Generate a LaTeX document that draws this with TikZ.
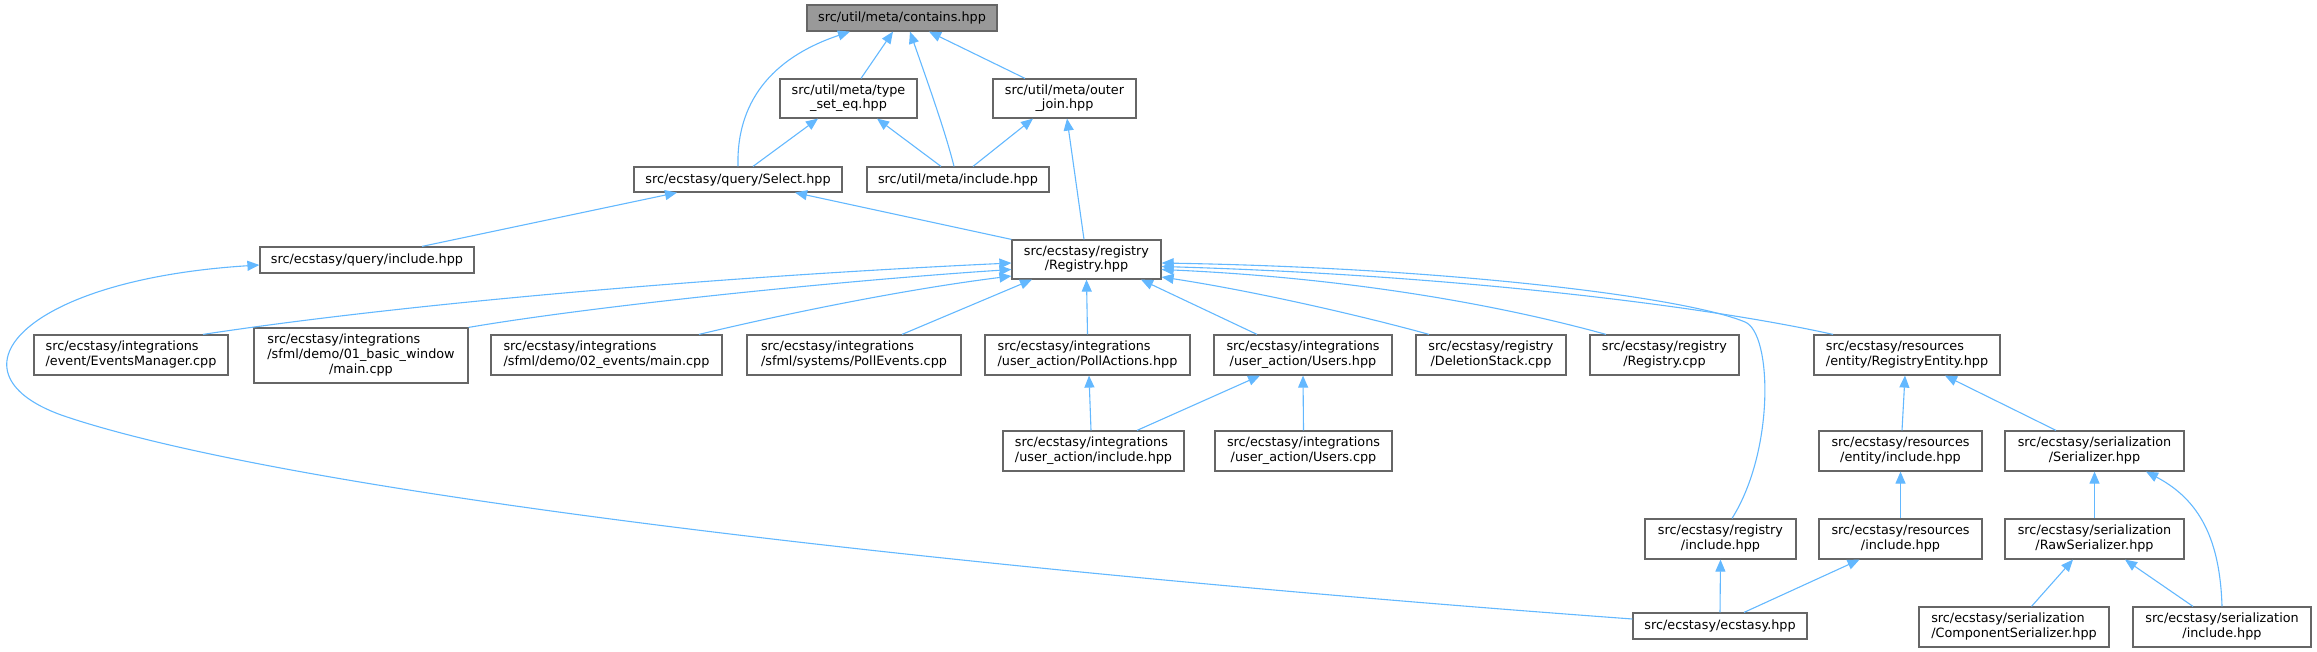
\documentclass[tikz,border=0pt]{standalone}
\usepackage{fontspec}
\setmainfont{DejaVu Sans}
\usetikzlibrary{arrows.meta}
\definecolor{edgeblue}{HTML}{63B8FF}
\definecolor{boxgray}{HTML}{666666}
\definecolor{rootfill}{HTML}{999999}
\newcommand{\lbltwo}[2]{\begin{tabular}{@{}l@{}}#1\\\multicolumn{1}{@{}c@{}}{#2}\end{tabular}}
\newcommand{\lblthree}[3]{\begin{tabular}{@{}l@{}}#1\\#2\\\multicolumn{1}{@{}c@{}}{#3}\end{tabular}}
\tikzset{
  box/.style={draw=boxgray, fill=white, line width=1.2pt, inner sep=0pt, align=center,
    font=\fontsize{12.8}{14.8}\selectfont},
  rootbox/.style={box, fill=rootfill},
  edge/.style={draw=edgeblue, line width=1.1pt, -{Triangle[length=12pt,width=10pt]}},
}
\begin{document}
\begin{tikzpicture}[x=1pt,y=-1pt]
\useasboundingbox (0,0) rectangle (2317,652);
% nodes
\node[rootbox, minimum width=190pt, minimum height=26pt] (contains) at (902,18) {src/util/meta/contains.hpp};
\node[box, minimum width=137pt, minimum height=39pt] (tse) at (848.5,98.5) {\lbltwo{src/util/meta/type}{\_set\_eq.hpp}};
\node[box, minimum width=143pt, minimum height=39pt] (oj) at (1064.5,98.5) {\lbltwo{src/util/meta/outer}{\_join.hpp}};
\node[box, minimum width=208pt, minimum height=25pt] (sel) at (738,179.5) {src/ecstasy/query/Select.hpp};
\node[box, minimum width=182pt, minimum height=25pt] (mi) at (958,179.5) {src/util/meta/include.hpp};
\node[box, minimum width=149pt, minimum height=39pt] (reg) at (1086.5,259.5) {\lbltwo{src/ecstasy/registry}{/Registry.hpp}};
\node[box, minimum width=214pt, minimum height=26pt] (qinc) at (367,260) {src/ecstasy/query/include.hpp};
\node[box, minimum width=194pt, minimum height=40pt] (em) at (131,355) {\lbltwo{src/ecstasy/integrations}{/event/EventsManager.cpp}};
\node[box, minimum width=214pt, minimum height=55pt] (bw) at (361,355.5) {\lblthree{src/ecstasy/integrations}{/sfml/demo/01\_basic\_window}{/main.cpp}};
\node[box, minimum width=231pt, minimum height=40pt] (ev2) at (606.5,355) {\lbltwo{src/ecstasy/integrations}{/sfml/demo/02\_events/main.cpp}};
\node[box, minimum width=214pt, minimum height=40pt] (pe) at (854,355) {\lbltwo{src/ecstasy/integrations}{/sfml/systems/PollEvents.cpp}};
\node[box, minimum width=205pt, minimum height=40pt] (pa) at (1087.5,355) {\lbltwo{src/ecstasy/integrations}{/user\_action/PollActions.hpp}};
\node[box, minimum width=178pt, minimum height=40pt] (uh) at (1303,355) {\lbltwo{src/ecstasy/integrations}{/user\_action/Users.hpp}};
\node[box, minimum width=150pt, minimum height=40pt] (ds) at (1491,355) {\lbltwo{src/ecstasy/registry}{/DeletionStack.cpp}};
\node[box, minimum width=149pt, minimum height=40pt] (rc) at (1664.5,355) {\lbltwo{src/ecstasy/registry}{/Registry.cpp}};
\node[box, minimum width=186pt, minimum height=40pt] (re) at (1907,355) {\lbltwo{src/ecstasy/resources}{/entity/RegistryEntity.hpp}};
\node[box, minimum width=181pt, minimum height=40pt] (uai) at (1093.5,451) {\lbltwo{src/ecstasy/integrations}{/user\_action/include.hpp}};
\node[box, minimum width=177pt, minimum height=40pt] (uc) at (1303.5,451) {\lbltwo{src/ecstasy/integrations}{/user\_action/Users.cpp}};
\node[box, minimum width=163pt, minimum height=40pt] (ei) at (1900.5,451) {\lbltwo{src/ecstasy/resources}{/entity/include.hpp}};
\node[box, minimum width=179pt, minimum height=40pt] (ser) at (2094.5,451) {\lbltwo{src/ecstasy/serialization}{/Serializer.hpp}};
\node[box, minimum width=151pt, minimum height=40pt] (ri) at (1720.5,539) {\lbltwo{src/ecstasy/registry}{/include.hpp}};
\node[box, minimum width=163pt, minimum height=40pt] (rsi) at (1900.5,539) {\lbltwo{src/ecstasy/resources}{/include.hpp}};
\node[box, minimum width=179pt, minimum height=40pt] (raw) at (2094.5,539) {\lbltwo{src/ecstasy/serialization}{/RawSerializer.hpp}};
\node[box, minimum width=174pt, minimum height=26pt] (ecs) at (1720,626) {src/ecstasy/ecstasy.hpp};
\node[box, minimum width=190pt, minimum height=40pt] (cs) at (2014,627) {\lbltwo{src/ecstasy/serialization}{/ComponentSerializer.hpp}};
\node[box, minimum width=178pt, minimum height=40pt] (si) at (2222,627) {\lbltwo{src/ecstasy/serialization}{/include.hpp}};
% edges to contains
\draw[edge] (sel.north) .. controls (736,95) and (780,55) .. ([xshift=-52pt]contains.south);
\draw[edge] ([xshift=12.5pt]tse.north) -- ([xshift=-9pt]contains.south);
\draw[edge] ([xshift=-4pt]mi.north) .. controls (945,130) and (925,75) .. ([xshift=8pt]contains.south);
\draw[edge] ([xshift=-39.5pt]oj.north) -- ([xshift=27pt]contains.south);
% tse, oj
\draw[edge] ([xshift=15pt]sel.north) -- ([xshift=-30.5pt]tse.south);
\draw[edge] ([xshift=-17pt]mi.north) -- ([xshift=28.5pt]tse.south);
\draw[edge] ([xshift=15pt]mi.north) -- ([xshift=-31.5pt]oj.south);
\draw[edge] ([xshift=-2.5pt]reg.north) -- ([xshift=2.5pt]oj.south);
% sel
\draw[edge] ([xshift=55pt]qinc.north) -- ([xshift=-61pt]sel.south);
\draw[edge] (reg.north west) -- ([xshift=57pt]sel.south);
% qinc
\draw[edge] ([yshift=7pt]ecs.west) .. controls (1033,575) and (317,500) .. (67,417)
  .. controls (-60,375) and (20,280) .. ([yshift=-5pt]qinc.west);
% to Registry
\draw[edge] ([xshift=72pt]em.north) .. controls (403,304) and (712,277) .. ([yshift=-3.5pt]reg.west);
\draw[edge] (bw.north east) .. controls (600,305) and (850,280) .. ([yshift=-10pt]reg.west);
\draw[edge] ([xshift=92.5pt]ev2.north) .. controls (780,315) and (900,290) .. ([yshift=-16.5pt]reg.west);
\draw[edge] ([xshift=48pt]pe.north) -- ([xshift=-54.5pt]reg.south);
\draw[edge] (pa.north) -- (reg.south);
\draw[edge] ([xshift=-46pt]uh.north) -- ([xshift=54.5pt]reg.south);
\draw[edge] ([xshift=-62pt]ds.north) .. controls (1370,318) and (1260,292) .. ([yshift=-17.5pt]reg.east);
\draw[edge] ([xshift=-58.5pt]rc.north) .. controls (1500,305) and (1350,278) .. ([yshift=-10pt]reg.east);
\draw[edge] ([xshift=-74pt]re.north) .. controls (1700,305) and (1450,275) .. ([yshift=-7pt]reg.east);
\draw[edge] ([xshift=11.5pt]ri.north) .. controls (1775,450) and (1772,333) .. (1745,322)
  .. controls (1685,297) and (1450,268) .. ([yshift=-3.5pt]reg.east);
% lower
\draw[edge] ([xshift=-2.5pt]uai.north) -- ([xshift=1.5pt]pa.south);
\draw[edge] ([xshift=43.5pt]uai.north) -- ([xshift=-43pt]uh.south);
\draw[edge] (uc.north) -- (uh.south);
\draw[edge] ([xshift=1.5pt]ei.north) -- ([xshift=-2pt]re.south);
\draw[edge] ([xshift=-38.5pt]ser.north) -- ([xshift=38pt]re.south);
\draw[edge] (rsi.north) -- (ei.south);
\draw[edge] (raw.north) -- (ser.south);
\draw[edge] (si.north) .. controls (2220,540) and (2200,500) .. ([xshift=51.5pt]ser.south);
\draw[edge] (ecs.north) -- (ri.south);
\draw[edge] ([xshift=24pt]ecs.north) -- ([xshift=-41pt]rsi.south);
\draw[edge] ([xshift=17.5pt]cs.north) -- ([xshift=-21.5pt]raw.south);
\draw[edge] ([xshift=-29pt]si.north) -- ([xshift=30.5pt]raw.south);
\end{tikzpicture}
\end{document}
